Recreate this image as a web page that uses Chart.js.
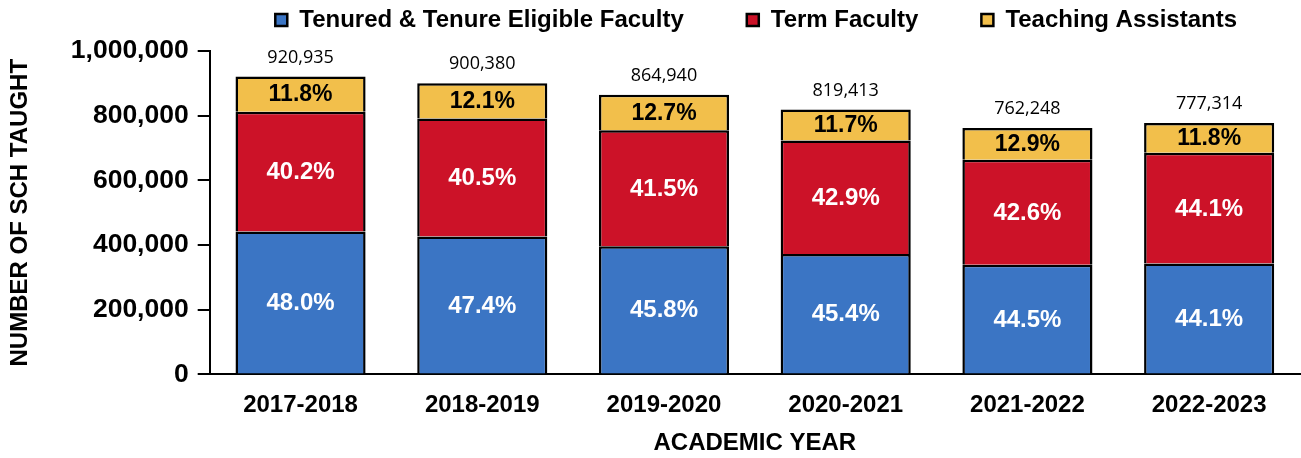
<!DOCTYPE html>
<html>
<head>
<meta charset="utf-8">
<script src="https://cdn.jsdelivr.net/npm/chart.js@4/dist/chart.umd.min.js"></script>
<style>
  html, body { margin: 0; padding: 0; background: #fff; }
  #wrap { width: 1301px; height: 458px; }
</style>
</head>
<body>
<div id="wrap"><canvas id="sch-chart"></canvas></div>
<script>
// data
const years = ['2017-2018', '2018-2019', '2019-2020', '2020-2021', '2021-2022', '2022-2023'];
const totals = [920935, 900380, 864940, 819413, 762248, 777314];
const tenured = [442049, 426780, 396143, 372014, 339200, 342795];
const term = [370216, 364654, 358950, 351528, 324718, 342795];
const assistants = [108670, 108946, 109847, 95871, 98330, 91724];
const tenuredPct = ['48.0%', '47.4%', '45.8%', '45.4%', '44.5%', '44.1%'];
const termPct = ['40.2%', '40.5%', '41.5%', '42.9%', '42.6%', '44.1%'];
const assistantsPct = ['11.8%', '12.1%', '12.7%', '11.7%', '12.9%', '11.8%'];
const yTicks = [0, 200000, 400000, 600000, 800000, 1000000];

const FONT = "'Liberation Sans', Arial, sans-serif";

// draws the percentages inside the bars and the totals on top
const barLabels = {
	id: 'barLabels',
	afterDatasetsDraw(chart) {
		const ctx = chart.ctx;
		const pcts = [tenuredPct, termPct, assistantsPct];
		ctx.save();
		ctx.textAlign = 'center';
		ctx.textBaseline = 'middle';
		chart.data.datasets.forEach((ds, i) => {
			const meta = chart.getDatasetMeta(i);
			meta.data.forEach((bar, j) => {
				const mid = (bar.y + bar.base) / 2;
				ctx.fillStyle = i === 2 ? '#000' : '#fff';
				ctx.font = 'bold ' + (i === 2 ? 23 : 24) + 'px ' + FONT;
				ctx.fillText(pcts[i][j], bar.x, mid + 1);
				if (i === 2) {
					ctx.fillStyle = '#000';
					ctx.font = "18px 'Open Sans', 'Noto Sans', sans-serif";
					ctx.fillText(totals[j].toLocaleString('en-US'), bar.x, bar.y - 19);
				}
			});
		});
		ctx.restore();
	}
};

// a bit more room under the legend
const legendGap = {
	id: 'legendGap',
	beforeInit(chart) {
		const fit = chart.legend.fit;
		chart.legend.fit = function () {
			fit.bind(chart.legend)();
			this.height += 9;
		};
	}
};

const ctx = document.getElementById('sch-chart').getContext('2d');

new Chart(ctx, {
	type: 'bar',
	data: {
		labels: years,
		datasets: [
			{
				label: 'Tenured & Tenure Eligible Faculty',
				data: tenured,
				backgroundColor: '#3b75c4',
				borderColor: '#000',
				borderWidth: 2.5,
			},
			{
				label: 'Term Faculty',
				data: term,
				backgroundColor: '#cc1228',
				borderColor: '#000',
				borderWidth: 2.5,
			},
			{
				label: 'Teaching Assistants',
				data: assistants,
				backgroundColor: '#f2bf4b',
				borderColor: '#000',
				borderWidth: 2.5,
			},
		],
	},
	options: {
		responsive: true,
		maintainAspectRatio: false,
		animation: false,
		layout: { padding: { top: -55, right: 1, bottom: 0, left: 6 } },
		datasets: {
			bar: { categoryPercentage: 1, barPercentage: 0.716 },
		},
		plugins: {
			tooltip: { enabled: false },
			legend: {
				position: 'top',
				align: 'end',
				labels: {
					boxWidth: 12,
					boxHeight: 12,
					padding: 63,
					color: '#000',
					font: { family: FONT, size: 24, weight: 'bold' },
				},
			},
		},
		scales: {
			x: {
				stacked: true,
				grid: { display: false, drawTicks: false },
				border: { color: '#000', width: 2 },
				ticks: {
					color: '#000',
					padding: 17,
					font: { family: FONT, size: 24, weight: 'bold' },
				},
				title: {
					display: true,
					text: 'ACADEMIC YEAR',
					color: '#000',
					padding: { top: -8, bottom: 0 },
					font: { family: FONT, size: 24, weight: 'bold' },
				},
			},
			y: {
				stacked: true,
				min: 0,
				max: 1000000,
				afterBuildTicks(scale) {
					scale.ticks = yTicks.map(v => ({ value: v }));
				},
				grid: {
					drawOnChartArea: false,
					drawTicks: true,
					tickLength: 12,
					tickColor: '#000',
					lineWidth: 2,
				},
				border: { color: '#000', width: 2 },
				ticks: {
					color: '#000',
					padding: 9,
					font: { family: FONT, size: 26.5, weight: 'bold' },
					callback: v => v.toLocaleString('en-US'),
				},
				title: {
					display: true,
					text: 'NUMBER OF SCH TAUGHT',
					color: '#000',
					padding: { top: 0, bottom: 27 },
					font: { family: FONT, size: 24, weight: 'bold' },
				},
			},
		},
	},
	plugins: [barLabels, legendGap],
});
</script>
</body>
</html>
